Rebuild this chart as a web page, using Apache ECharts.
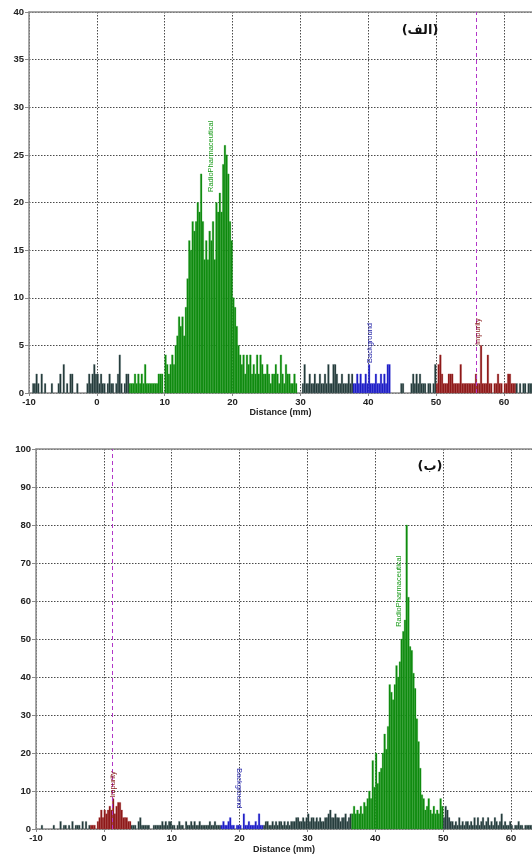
<!DOCTYPE html>
<html>
<head>
<meta charset="utf-8">
<script src="https://cdn.jsdelivr.net/npm/echarts@6/dist/echarts.min.js"></script>
<style>
html,body{margin:0;padding:0;background:#fff;}
#chart{width:532px;height:855px;}
</style>
</head>
<body>
<div id="chart"></div>
<script>
// ---------- DATA ----------
const BIN_WIDTH = 0.25;            // mm per histogram bin
const TOP_START = -10;             // mm of first bin (panel الف)
const BOTTOM_START = -10;          // mm of first bin (panel ب)

// Panel (الف): counts per 0.25 mm bin, from -10 mm
const topCounts = [
  0,0,1,1, 2,1,0,2, 0,1,0,0, 0,1,0,0, 0,1,2,0, 3,0,1,0, 2,2,0,0, 1,0,0,0,
  0,0,1,2, 1,2,3,2, 2,1,2,1, 1,0,1,2, 1,1,0,1, 2,4,1,0, 1,2,2,1, 1,1,2,1,
  2,1,2,1, 3,1,1,1, 1,1,1,1, 2,2,2,0, 4,3,2,3, 4,3,5,6, 8,7,8,6, 9,12,16,15,
  18,17,18,20, 19,23,18,14, 16,14,17,16, 18,14,20,19, 21,19,24,26, 25,23,18,16,
  10,9,7,5, 4,3,4,2, 4,3,4,2, 3,2,4,2, 4,3,2,2, 3,2,1,2, 2,3,2,1, 4,2,1,3,
  2,2,1,1, 2,1,0,0, 0,1,3,1, 1,2,1,1, 2,1,1,2, 1,1,2,1, 3,1,1,3, 3,2,1,1,
  2,1,1,1, 2,1,2,1, 1,2,1,2, 1,1,2,1, 3,1,1,1, 2,1,1,2, 1,2,1,3, 3,0,0,0,
  0,0,0,1, 1,0,0,0, 0,1,2,1, 2,1,2,1, 1,1,0,1, 1,0,1,3, 1,3,4,2, 1,1,1,2,
  2,2,1,1, 1,1,3,1, 1,1,1,1, 1,1,1,2, 1,1,5,1, 1,1,4,1, 1,0,1,1, 2,1,1,0,
  1,1,2,2, 1,1,1,1, 0,1,0,1, 1,0,1,1, 1
];

// Panel (ب): counts per 0.25 mm bin, from -10 mm
const bottomCounts = [
  0,0,0,1, 0,0,0,0, 0,0,1,0, 0,0,2,0, 1,1,0,1, 0,2,0,1, 1,1,0,2, 0,2,0,1,
  1,1,1,0, 2,3,5,3, 5,4,5,6, 5,8,4,6, 7,7,5,3, 3,3,2,2, 1,1,1,0, 2,3,1,1,
  1,1,1,0, 0,1,1,1, 1,1,2,1, 2,1,2,2, 1,1,0,1, 2,1,1,0, 2,1,1,2, 1,2,1,1,
  2,1,1,1, 1,1,2,1, 1,2,1,1, 1,1,2,1, 1,2,3,1, 1,0,1,1, 1,0,4,1, 1,2,1,1,
  1,2,1,4, 1,1,1,2, 2,1,1,2, 1,2,1,2, 2,1,2,1, 2,1,2,2, 2,3,3,2, 2,3,2,3,
  4,2,3,3, 2,3,2,3, 2,2,3,3, 4,5,3,3, 4,3,3,2, 3,3,4,2, 3,4,4,6, 4,5,4,6,
  4,7,6,8, 10,8,18,11, 20,12,15,16, 20,25,21,27, 38,36,34,38, 43,40,44,50,
  52,55,80,61, 48,47,41,37, 29,23,16,9, 8,5,6,8, 5,4,6,4, 5,4,8,6, 3,6,5,3,
  2,2,1,2, 1,3,1,2, 1,2,2,1, 2,1,3,1, 3,1,2,3, 1,2,3,1, 2,1,3,2, 1,2,4,1,
  2,1,1,2, 1,0,1,1, 2,1,1,0, 1,1,1,1, 1
];

// Regions of interest: [start mm, region]
const topRegions = [[-10,'other'],[4.75,'radio'],[29.5,'other'],[37.75,'background'],[43.25,'other'],[50,'impurity'],[61.75,'other']];
const bottomRegions = [[-10,'other'],[-2,'impurity'],[4,'other'],[17.25,'background'],[23.5,'other'],[36.5,'radio'],[50,'other']];

// Impurity marker positions (mm)
const topImpurityLine = [55.87];
const bottomImpurityLine = [1.2];

// Peak labels: [mm, counts, text, region, direction]
const topPeakLabels = [
  [16.82, 21.1, 'RadioPharmaceutical', 'radio', 'up'],
  [40.25, 3.15, 'Background', 'background', 'up'],
  [56.16, 5.04, 'Impurity', 'impurity', 'up']
];
const bottomPeakLabels = [
  [43.5, 53.2, 'RadioPharmaceutical', 'radio', 'up'],
  [1.35, 8.2, 'Impurity', 'impurity', 'up'],
  [19.9, 16, 'Background', 'background', 'down']
];

// Axes
const xMin = -10, xInterval = 10;
const topXMax = 64.13, bottomXMax = 63.09;
const topYMax = 40, topYInterval = 5;
const bottomYMax = 100, bottomYInterval = 10;
const xAxisName = 'Distance (mm)';
const topTitle = '(الف)';
const bottomTitle = '(ب)';

// ---------- STYLE ----------
const REGION_FILL = {other:'#1d3434', radio:'#0b880b', background:'#1818c4', impurity:'#8a1414'};
const REGION_EDGE = {other:'#6f8585', radio:'#3aa63a', background:'#5a5ad8', impurity:'#b04a4a'};
const LABEL_COLOR = {radio:'#169a16', background:'#1c1ca6', impurity:'#861818'};
const FONT = '"Liberation Sans", Arial, sans-serif';
const REGION_NAMES = ['other','radio','background','impurity'];

function regionAt(regions, x){
  let r = regions[0][1];
  for (const [s, name] of regions){ if (x >= s - 1e-9) r = name; }
  return r;
}
function buildBins(counts, start, regions){
  return counts.map((c, i) => {
    const x = start + i * BIN_WIDTH;
    return [x, c, REGION_NAMES.indexOf(regionAt(regions, x))];
  });
}

function histRender(params, api){
  const y = api.value(1);
  if (!y) return null;
  const x0 = api.value(0);
  const reg = REGION_NAMES[api.value(2)];
  const p0 = api.coord([x0, 0]);
  const p1 = api.coord([x0 + BIN_WIDTH, y]);
  return {
    type:'rect',
    shape:{x:p0[0], y:p1[1], width:p1[0]-p0[0], height:p0[1]-p1[1]},
    style:{fill:REGION_FILL[reg], stroke:REGION_EDGE[reg], lineWidth:0.3}
  };
}
function labelRender(labels){
  return function(params, api){
    const l = labels[params.dataIndex];
    const p = api.coord([api.value(0), api.value(1)]);
    return {
      type:'text',
      x:p[0], y:p[1],
      rotation: l[4] === 'up' ? Math.PI/2 : -Math.PI/2,
      style:{text:l[2], fill:LABEL_COLOR[l[3]], font:'7.5px ' + FONT, align:'left', verticalAlign:'middle'}
    };
  };
}

function xAxisFor(grid, max, gap){
  return {
    gridIndex:grid, type:'value', min:xMin, max:max, interval:xInterval,
    name:xAxisName, nameLocation:'middle', nameGap:gap,
    nameTextStyle:{fontFamily:FONT, fontSize:9, fontWeight:'bold', color:'#222'},
    axisLine:{show:true, onZero:false, lineStyle:{color:'#8a8a8a', width:1.5}},
    axisTick:{show:true, length:3, lineStyle:{color:'#8a8a8a'}},
    axisLabel:{fontFamily:FONT, fontSize:9.5, fontWeight:'bold', color:'#222', margin:4, showMaxLabel:false,
      formatter: v => (Math.abs(v % 10) < 1e-6 ? String(v) : '')},
    splitLine:{show:true, lineStyle:{type:[1.5,1.5], color:'#4a4a4a', width:1}}
  };
}
function topBorderAxis(grid, max){
  return {
    gridIndex:grid, type:'value', position:'top', min:xMin, max:max,
    axisLine:{show:true, onZero:false, lineStyle:{color:'#8a8a8a', width:1.5}},
    axisTick:{show:false}, axisLabel:{show:false}, splitLine:{show:false}
  };
}
function yAxisFor(grid, max, interval){
  return {
    gridIndex:grid, type:'value', min:0, max:max, interval:interval,
    axisLine:{show:true, onZero:false, lineStyle:{color:'#8a8a8a', width:1.5}},
    axisTick:{show:true, length:4, lineStyle:{color:'#8a8a8a'}},
    axisLabel:{fontFamily:FONT, fontSize:9.5, fontWeight:'bold', color:'#222', margin:5},
    splitLine:{show:true, lineStyle:{type:[1.5,1.5], color:'#4a4a4a', width:1}}
  };
}
function impurityMark(values){
  return {
    silent:true, symbol:'none', label:{show:false},
    lineStyle:{type:[4,3], color:'#b236c8', width:1},
    data: values.map(v => ({xAxis:v}))
  };
}

const chart = echarts.init(document.getElementById('chart'), null, {renderer:'canvas'});
chart.setOption({
  animation:false,
  backgroundColor:'#ffffff',
  title:[
    {text:topTitle, left:415, top:19, textAlign:'center',
     textStyle:{fontFamily:'"DejaVu Sans", sans-serif', fontSize:13, fontWeight:'bold', color:'#111'}},
    {text:bottomTitle, left:425, top:455, textAlign:'center',
     textStyle:{fontFamily:'"DejaVu Sans", sans-serif', fontSize:13, fontWeight:'bold', color:'#111'}}
  ],
  grid:[
    {left:29, right:0, top:12, height:381},
    {left:36, right:0, top:449, height:380}
  ],
  xAxis:[
    xAxisFor(0, topXMax, 15), topBorderAxis(0, topXMax),
    xAxisFor(1, bottomXMax, 16), topBorderAxis(1, bottomXMax)
  ],
  yAxis:[
    yAxisFor(0, topYMax, topYInterval),
    yAxisFor(1, bottomYMax, bottomYInterval)
  ],
  series:[
    {type:'custom', xAxisIndex:0, yAxisIndex:0, renderItem:histRender,
     encode:{x:0, y:1}, data:buildBins(topCounts, TOP_START, topRegions)},
    {type:'custom', xAxisIndex:2, yAxisIndex:1, renderItem:histRender,
     encode:{x:0, y:1}, data:buildBins(bottomCounts, BOTTOM_START, bottomRegions)},
    {type:'custom', xAxisIndex:0, yAxisIndex:0, renderItem:labelRender(topPeakLabels),
     encode:{x:0, y:1}, data:topPeakLabels.map(l => [l[0], l[1]]), z:5,
     markLine:impurityMark(topImpurityLine)},
    {type:'custom', xAxisIndex:2, yAxisIndex:1, renderItem:labelRender(bottomPeakLabels),
     encode:{x:0, y:1}, data:bottomPeakLabels.map(l => [l[0], l[1]]), z:5,
     markLine:impurityMark(bottomImpurityLine)}
  ]
});
</script>
</body>
</html>
